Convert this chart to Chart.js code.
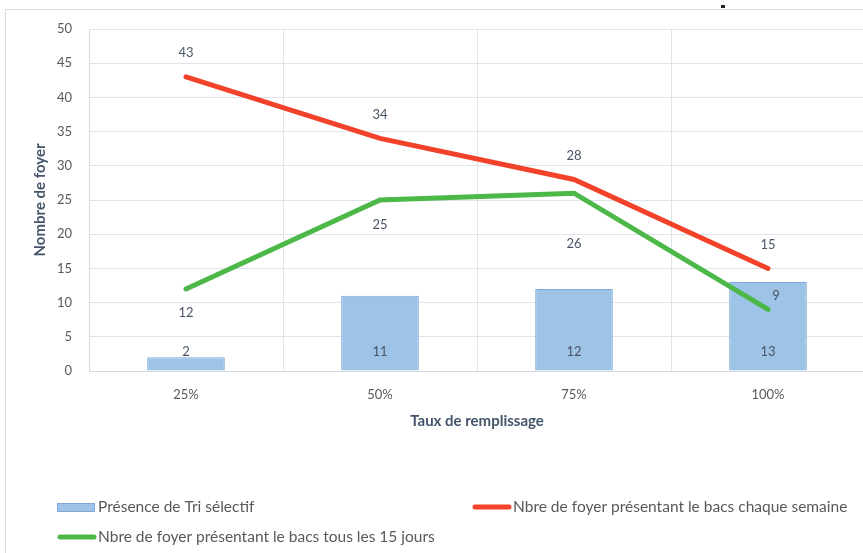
<!DOCTYPE html>
<html>
<head>
<meta charset="utf-8">
<script src="https://cdn.jsdelivr.net/npm/chart.js@4.4.1/dist/chart.umd.min.js"></script>
<style>
  html, body { margin: 0; padding: 0; background: #fff; overflow: hidden; }
  #wrap { width: 880px; height: 553px; }
</style>
</head>
<body>
<div id="wrap"><canvas id="chart" width="880" height="553"></canvas></div>
<script>
// data
const categories = ['25%', '50%', '75%', '100%'];
const triSelectif = [2, 11, 12, 13];
const chaqueSemaine = [43, 34, 28, 15];
const tous15Jours = [12, 25, 26, 9];

// where each value label sits relative to its point (px)
const redLabelDy = [-24, -24, -24, -24];
const greenLabelDx = [0, 0, 0, 8];
const greenLabelDy = [24, 25, 51, -14];

const FONT = 'Lato';
const gridColor = '#dde4ea';

const decor = {
    id: 'decor',
    beforeDraw(chart) {
        const ctx = chart.ctx;
        ctx.save();
        ctx.fillStyle = '#fff';
        ctx.fillRect(0, 0, chart.width, chart.height);
        ctx.strokeStyle = '#d6dde3';
        ctx.lineWidth = 1;
        ctx.strokeRect(5.5, 9.5, 900, 600);
        ctx.fillStyle = '#222';
        ctx.fillRect(721, 5, 4, 3);
        ctx.restore();
    },
    afterDatasetsDraw(chart) {
        const ctx = chart.ctx;
        ctx.save();
        ctx.font = '13px ' + FONT;
        ctx.fillStyle = '#4a5568';
        ctx.textAlign = 'center';
        ctx.textBaseline = 'middle';
        const base = chart.scales.y.getPixelForValue(0);
        chart.getDatasetMeta(0).data.forEach((p, i) => {
            ctx.fillText(triSelectif[i], p.x, base - 19);
        });
        chart.getDatasetMeta(1).data.forEach((p, i) => {
            ctx.fillText(chaqueSemaine[i], p.x, p.y + redLabelDy[i]);
        });
        chart.getDatasetMeta(2).data.forEach((p, i) => {
            ctx.fillText(tous15Jours[i], p.x + greenLabelDx[i], p.y + greenLabelDy[i]);
        });
        ctx.restore();
    },
    afterDraw(chart) {
        // legend laid out like the Excel one
        const ctx = chart.ctx;
        const ds = chart.data.datasets;
        const items = [
            { ds: ds[0], x: 57, y: 507, bar: true },
            { ds: ds[1], x: 472, y: 507 },
            { ds: ds[2], x: 57, y: 537 }
        ];
        ctx.save();
        ctx.font = '15.5px ' + FONT;
        ctx.textBaseline = 'middle';
        items.forEach(it => {
            if (it.bar) {
                ctx.fillStyle = it.ds.backgroundColor;
                ctx.fillRect(it.x, it.y - 4, 38, 9);
                ctx.strokeStyle = it.ds.borderColor;
                ctx.strokeRect(it.x + 0.5, it.y - 3.5, 37, 8);
            } else {
                ctx.strokeStyle = it.ds.borderColor;
                ctx.lineWidth = 5;
                ctx.lineCap = 'round';
                ctx.beginPath();
                ctx.moveTo(it.x + 3, it.y);
                ctx.lineTo(it.x + 37, it.y);
                ctx.stroke();
            }
            ctx.fillStyle = '#595959';
            ctx.fillText(it.ds.label, it.x + 41, it.y);
        });
        ctx.restore();
    }
};

const ctx = document.getElementById('chart').getContext('2d');
const chart = new Chart(ctx, {
    data: {
        labels: categories,
        datasets: [{
            type: 'bar',
            label: 'Présence de Tri sélectif',
            data: triSelectif,
            backgroundColor: '#9dc3e6',
            borderColor: '#7fa7d8',
            borderWidth: 1,
            barPercentage: 0.4,
            categoryPercentage: 1,
            order: 3
        }, {
            type: 'line',
            label: 'Nbre de foyer présentant le bacs chaque semaine',
            data: chaqueSemaine,
            borderColor: '#f2432a',
            borderWidth: 5,
            borderCapStyle: 'round',
            pointRadius: 0,
            tension: 0,
            fill: false,
            order: 1
        }, {
            type: 'line',
            label: 'Nbre de foyer présentant le bacs tous les 15 jours',
            data: tous15Jours,
            borderColor: '#4cb848',
            borderWidth: 5,
            borderCapStyle: 'round',
            pointRadius: 0,
            tension: 0,
            fill: false,
            order: 2
        }]
    },
    options: {
        responsive: false,
        animation: false,
        layout: { padding: { left: 0, top: 29, right: 15, bottom: 0 } },
        plugins: {
            legend: { display: false },
            tooltip: { enabled: false }
        },
        scales: {
            x: {
                grid: { color: gridColor, offset: true, drawTicks: false },
                border: { color: '#d3dbe2' },
                ticks: { color: '#595959', font: { family: FONT, size: 13 }, padding: 16 },
                title: {
                    display: true,
                    text: 'Taux de remplissage',
                    color: '#44546a',
                    font: { family: FONT, size: 15, weight: 'bold' },
                    padding: { top: 0, bottom: 123 }
                },
                afterFit(scale) { scale.height = 182; }
            },
            y: {
                min: 0,
                max: 50,
                grid: { color: gridColor, drawTicks: false },
                border: { color: '#d3dbe2' },
                ticks: { stepSize: 5, color: '#595959', font: { family: FONT, size: 13 }, padding: 17 },
                title: {
                    display: true,
                    text: 'Nombre de foyer',
                    color: '#44546a',
                    font: { family: FONT, size: 15, weight: 'bold' },
                    padding: { top: 31, bottom: 0 }
                },
                afterFit(scale) { scale.width = 89; }
            }
        }
    },
    plugins: [decor]
});
</script>
</body>
</html>
